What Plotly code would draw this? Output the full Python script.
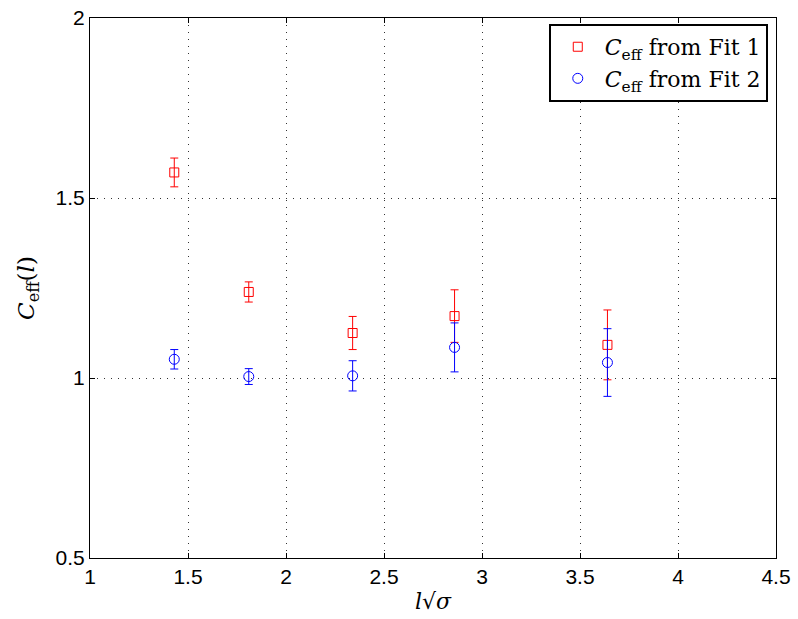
import plotly.graph_objects as go

# l*sqrt(sigma) positions of the measurements
l_sqrt_sigma = [1.43, 1.81, 2.34, 2.86, 3.64]

# Fit 1 results
c_eff_fit1 = [1.571, 1.239, 1.125, 1.172, 1.092]
err_fit1 = [0.040, 0.028, 0.046, 0.073, 0.097]

# Fit 2 results
c_eff_fit2 = [1.052, 1.004, 1.006, 1.085, 1.043]
err_fit2 = [0.027, 0.022, 0.042, 0.068, 0.094]

x_ticks = [1, 1.5, 2, 2.5, 3, 3.5, 4, 4.5]
y_ticks = [0.5, 1, 1.5, 2]

serif = "DejaVu Serif"
sans = "Liberation Sans"

fig = go.Figure()

fig.add_trace(go.Scatter(
    x=l_sqrt_sigma, y=c_eff_fit1, mode="markers",
    name="<i>C</i><sub>eff</sub> from Fit 1",
    marker=dict(symbol="square-open", size=9, color="#ff0000", line=dict(width=1)),
    error_y=dict(type="data", array=err_fit1, visible=True,
                 color="#ff0000", thickness=1, width=4),
))

fig.add_trace(go.Scatter(
    x=l_sqrt_sigma, y=c_eff_fit2, mode="markers",
    name="<i>C</i><sub>eff</sub> from Fit 2",
    marker=dict(symbol="circle-open", size=10, color="#0000ff", line=dict(width=1)),
    error_y=dict(type="data", array=err_fit2, visible=True,
                 color="#0000ff", thickness=1, width=4),
))

axis_common = dict(
    showline=True, linecolor="black", linewidth=1, mirror="ticks",
    ticks="inside", ticklen=5, tickcolor="black", tickwidth=1,
    showgrid=True, gridcolor="#333333", griddash="1px,6px", gridwidth=1,
    zeroline=False, automargin=False,
    tickfont=dict(family=sans, size=21, color="black"),
)

fig.update_xaxes(
    range=[1, 4.5], tickvals=x_ticks,
    title=dict(text="<i>l</i>√<i>σ</i>", font=dict(family=serif, size=22, color="black"), standoff=6),
    **axis_common,
)
fig.update_yaxes(
    range=[0.5, 2], tickvals=y_ticks,
    title=dict(text="<i>C</i><sub>eff</sub>(<i>l</i>)", font=dict(family=serif, size=23, color="black"), standoff=14),
    **axis_common,
)

fig.update_layout(
    width=798, height=619,
    margin=dict(l=90, r=22, t=18, b=61),
    paper_bgcolor="white", plot_bgcolor="white",
    showlegend=True,
    legend=dict(
        x=0.988, y=0.989, xanchor="right", yanchor="top",
        bgcolor="white", bordercolor="black", borderwidth=2,
        font=dict(family=serif, size=22, color="black"),
        tracegroupgap=0, itemwidth=44,
    ),
)

fig.write_html("out.html")
